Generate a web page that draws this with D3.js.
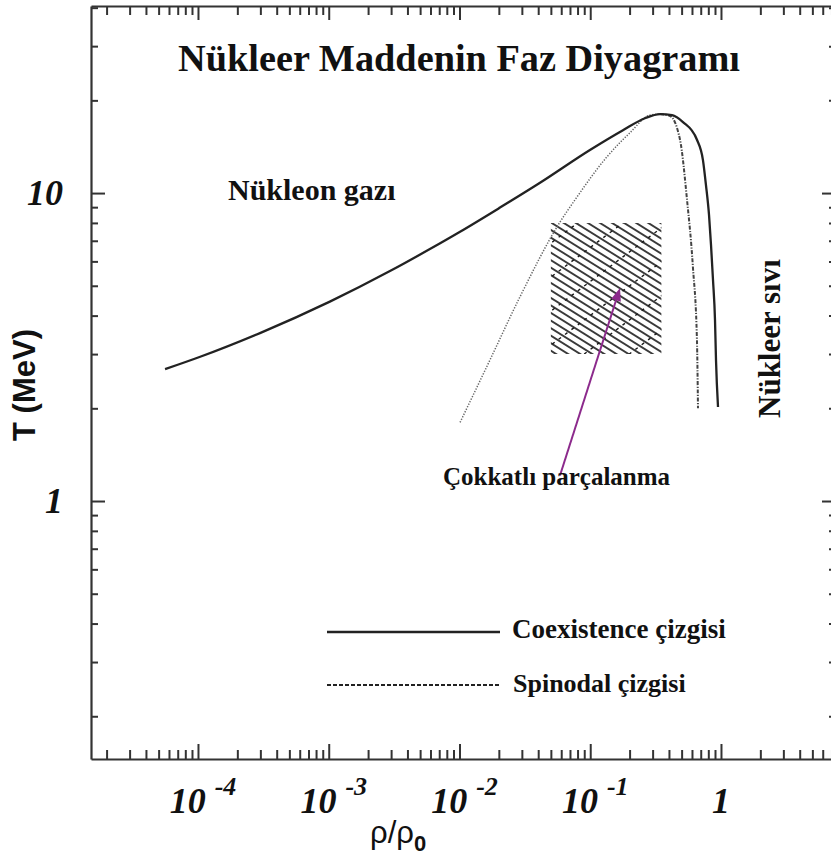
<!DOCTYPE html>
<html lang="tr">
<head>
<meta charset="UTF-8">
<title>Nükleer Maddenin Faz Diyagramı</title>
<script src="https://d3js.org/d3.v7.min.js"></script>
<style>
  body { margin: 0; background: #fff; }
  text { fill: #111; }
</style>
</head>
<body>
<script>

// ---- data ----
// coexistence line (rho/rho0, T in MeV)
const coexRho = [5.6e-5, 1.04e-4, 2.98e-4, 1.02e-3, 2.94e-3, 5.94e-3, 1.01e-2, 0.0204, 0.0413, 0.0995, 0.178, 0.262, 0.342, 0.422, 0.512, 0.655, 0.728, 0.768, 0.81, 0.839, 0.869, 0.9, 0.916, 0.949];
const coexT   = [2.68, 2.94, 3.51, 4.44, 5.58, 6.58, 7.49, 8.97, 10.8, 13.8, 16.0, 17.5, 18.05, 17.9, 17.0, 14.9, 12.8, 10.6, 8.49, 6.78, 5.22, 3.87, 2.87, 2.02];

// spinodal line, low density (gas side) branch
const spinGasRho = [0.0101, 0.0171, 0.029, 0.0587, 0.0764, 0.134, 0.2014, 0.286, 0.342];
const spinGasT   = [1.8, 2.87, 4.6, 8.05, 9.5, 13.1, 15.7, 17.9, 18.05];

// spinodal line, high density (liquid side) branch
const spinLiqRho = [0.342, 0.407, 0.486, 0.55, 0.61, 0.655, 0.667];
const spinLiqT   = [18.05, 17.8, 14.9, 9.5, 5.75, 3.33, 2.0];

// multifragmentation region
const fragRho = [0.05, 0.35];
const fragT   = [3, 8];

// arrow (start, tip)
const arrowRho = [0.0587, 0.169];
const arrowT   = [1.21, 4.92];

// ticks
const xMajor = [1e-4, 1e-3, 1e-2, 1e-1, 1];
const xLabelExp = ["-4", "-3", "-2", "-1", ""];
const yMajor = [1, 10];
const yLabels = ["1", "10"];

const W = 831, H = 857;
const pLeft = 91, pRight = 836, pTop = 6, pBottom = 759;

const svg = d3.select("body").append("svg")
    .attr("width", W)
    .attr("height", H);

const x = d3.scaleLog().domain([1.52e-5, 7.58]).range([pLeft, pRight]);
const y = d3.scaleLog().domain([0.1453, 40.5]).range([pBottom, pTop]);

// minor ticks 2..9 per decade
function minors(domain) {
  const out = [];
  for (let e = -6; e <= 2; e++) {
    for (let m = 2; m <= 9; m++) {
      const v = m * Math.pow(10, e);
      if (v >= domain[0] && v <= domain[1]) out.push(v);
    }
  }
  return out;
}
const xMinor = minors(x.domain());
const yMinor = minors(y.domain());

// multifragmentation box, hatched by hand (clipped)
const fx0 = x(fragRho[0]), fx1 = x(fragRho[1]);
const fy0 = y(fragT[1]), fy1 = y(fragT[0]);
svg.append("defs").append("clipPath")
    .attr("id", "fragClip")
  .append("rect")
    .attr("x", fx0).attr("y", fy0)
    .attr("width", fx1 - fx0).attr("height", fy1 - fy0);

const hatch = svg.append("g").attr("clip-path", "url(#fragClip)");
// stripes going down to the right
const a1 = 32 * Math.PI / 180, gap1 = 6.4;
const step1 = gap1 / Math.cos(a1);
for (let c = fy0 - (fx1 - fx0) * Math.tan(a1) - 10; c < fy1 + 10; c += step1) {
  hatch.append("line")
      .attr("x1", fx0 - 5).attr("y1", c)
      .attr("x2", fx1 + 5).attr("y2", c + (fx1 - fx0 + 10) * Math.tan(a1))
      .attr("stroke", "#3a3a3a").attr("stroke-width", 1.9);
}
// sparse dashed cross lines going up to the right
const a2 = 37 * Math.PI / 180, step2 = 34;
for (let c = fy0 - 10; c < fy1 + (fx1 - fx0) * Math.tan(a2) + 10; c += step2) {
  hatch.append("line")
      .attr("x1", fx0 - 5).attr("y1", c)
      .attr("x2", fx1 + 5).attr("y2", c - (fx1 - fx0 + 10) * Math.tan(a2))
      .attr("stroke", "#1a1a1a").attr("stroke-width", 1.4)
      .attr("stroke-dasharray", "3,5");
}

// curves
const line = d3.line()
    .x(d => x(d[0]))
    .y(d => y(d[1]))
    .curve(d3.curveMonotoneX);

svg.append("path")
    .attr("d", line(d3.zip(spinGasRho, spinGasT)))
    .attr("fill", "none")
    .attr("stroke", "#666")
    .attr("stroke-width", 1.5)
    .attr("stroke-dasharray", "1.3,1.5");

svg.append("path")
    .attr("d", line(d3.zip(spinLiqRho, spinLiqT)))
    .attr("fill", "none")
    .attr("stroke", "#444")
    .attr("stroke-width", 2)
    .attr("stroke-dasharray", "4,1.5,1.2,1.5");

svg.append("path")
    .attr("d", line(d3.zip(coexRho, coexT)))
    .attr("fill", "none")
    .attr("stroke", "#222")
    .attr("stroke-width", 2.3);

// purple arrow
const purple = "#8c2a8c";
const ax0 = x(arrowRho[0]), ay0 = y(arrowT[0]);
const ax1 = x(arrowRho[1]), ay1 = y(arrowT[1]);
const ang = Math.atan2(ay1 - ay0, ax1 - ax0);
const hl = 13, hw = 5;
const bx = ax1 - hl * Math.cos(ang), by = ay1 - hl * Math.sin(ang);
svg.append("line")
    .attr("x1", ax0).attr("y1", ay0).attr("x2", bx).attr("y2", by)
    .attr("stroke", purple).attr("stroke-width", 2);
svg.append("path")
    .attr("d", "M" + ax1 + "," + ay1 +
               "L" + (bx + hw * Math.sin(ang)) + "," + (by - hw * Math.cos(ang)) +
               "L" + (bx - hw * Math.sin(ang)) + "," + (by + hw * Math.cos(ang)) + "Z")
    .attr("fill", purple);

// axes (ticks inside)
const axisColor = "#333";
function drawAxis(axis, tr) {
  const g = svg.append("g").attr("transform", tr).call(axis);
  g.selectAll("text").remove();
  g.select(".domain").attr("stroke", axisColor).attr("stroke-width", 2.2);
  g.selectAll(".tick line").attr("stroke", axisColor).attr("stroke-width", 2);
  return g;
}
function minorAxis(axis, tr) {
  const g = svg.append("g").attr("transform", tr).call(axis);
  g.selectAll("text").remove();
  g.select(".domain").remove();
  g.selectAll(".tick line").attr("stroke", axisColor).attr("stroke-width", 2);
}

drawAxis(d3.axisBottom(x).tickValues(xMajor).tickSizeInner(-15).tickSizeOuter(0), `translate(0,${pBottom})`);
minorAxis(d3.axisBottom(x).tickValues(xMinor).tickSize(-9), `translate(0,${pBottom})`);
drawAxis(d3.axisTop(x).tickValues(xMajor).tickSizeInner(-14).tickSizeOuter(0), `translate(0,${pTop})`);
minorAxis(d3.axisTop(x).tickValues(xMinor).tickSize(-9), `translate(0,${pTop})`);
drawAxis(d3.axisLeft(y).tickValues(yMajor).tickSizeInner(-14).tickSizeOuter(0), `translate(${pLeft},0)`);
minorAxis(d3.axisLeft(y).tickValues(yMinor).tickSize(-7), `translate(${pLeft},0)`);
drawAxis(d3.axisRight(y).tickValues(yMajor).tickSizeInner(-14).tickSizeOuter(0), `translate(${pRight},0)`);
minorAxis(d3.axisRight(y).tickValues(yMinor).tickSize(-7), `translate(${pRight},0)`);

// tick labels
const tickFont = "'Liberation Serif', 'Times New Roman', serif";
xMajor.forEach((v, i) => {
  const t = svg.append("text")
      .attr("x", x(v) + (xLabelExp[i] ? 5 : 0))
      .attr("y", 813)
      .attr("text-anchor", "middle")
      .style("font-family", tickFont)
      .style("font-weight", "bold")
      .style("font-style", "italic")
      .style("font-size", "36px");
  if (xLabelExp[i]) {
    t.append("tspan").text("10");
    t.append("tspan").attr("dx", 9).attr("dy", -18).style("font-size", "26px").text(xLabelExp[i]);
  } else {
    t.text("1");
  }
});
yMajor.forEach((v, i) => {
  svg.append("text")
      .attr("x", 63)
      .attr("y", y(v) + 12)
      .attr("text-anchor", "end")
      .style("font-family", tickFont)
      .style("font-weight", "bold")
      .style("font-style", "italic")
      .style("font-size", "36px")
      .text(yLabels[i]);
});

// axis titles
svg.append("text")
    .attr("transform", "translate(35,385) rotate(-90)")
    .attr("text-anchor", "middle")
    .style("font-family", "'Liberation Sans', Arial, sans-serif")
    .style("font-weight", "bold")
    .style("font-size", "31px")
    .text("T (MeV)");

const xt = svg.append("text")
    .attr("x", 370).attr("y", 843)
    .style("font-family", "'Liberation Sans', Arial, sans-serif")
    .style("font-size", "31px");
xt.append("tspan").text("ρ/ρ");
xt.append("tspan").attr("dy", 8).style("font-size", "22px").style("font-weight", "bold").text("0");

// annotations
const serif = "'Liberation Serif', 'Times New Roman', serif";
function label(txt, xx, yy, size, anchor) {
  return svg.append("text")
      .attr("x", xx).attr("y", yy)
      .attr("text-anchor", anchor || "start")
      .style("font-family", serif)
      .style("font-weight", "bold")
      .style("font-size", size + "px")
      .text(txt);
}
label("Nükleer Maddenin Faz Diyagramı", 459, 71, 38.3, "middle");
label("Nükleon gazı", 228, 200, 30);
label("Çokkatlı parçalanma", 443, 485, 25);
label("Nükleer sıvı", 0, 0, 31)
    .attr("transform", "translate(780,418) rotate(-90)");

// legend
svg.append("line")
    .attr("x1", 327).attr("x2", 500).attr("y1", 632).attr("y2", 632)
    .attr("stroke", "#222").attr("stroke-width", 2.3);
svg.append("line")
    .attr("x1", 327).attr("x2", 500).attr("y1", 685).attr("y2", 685)
    .attr("stroke", "#222").attr("stroke-width", 1.8)
    .attr("stroke-dasharray", "4,2");
label("Coexistence çizgisi", 512, 638, 27);
label("Spinodal çizgisi", 513, 692, 26);

</script>
</body>
</html>
